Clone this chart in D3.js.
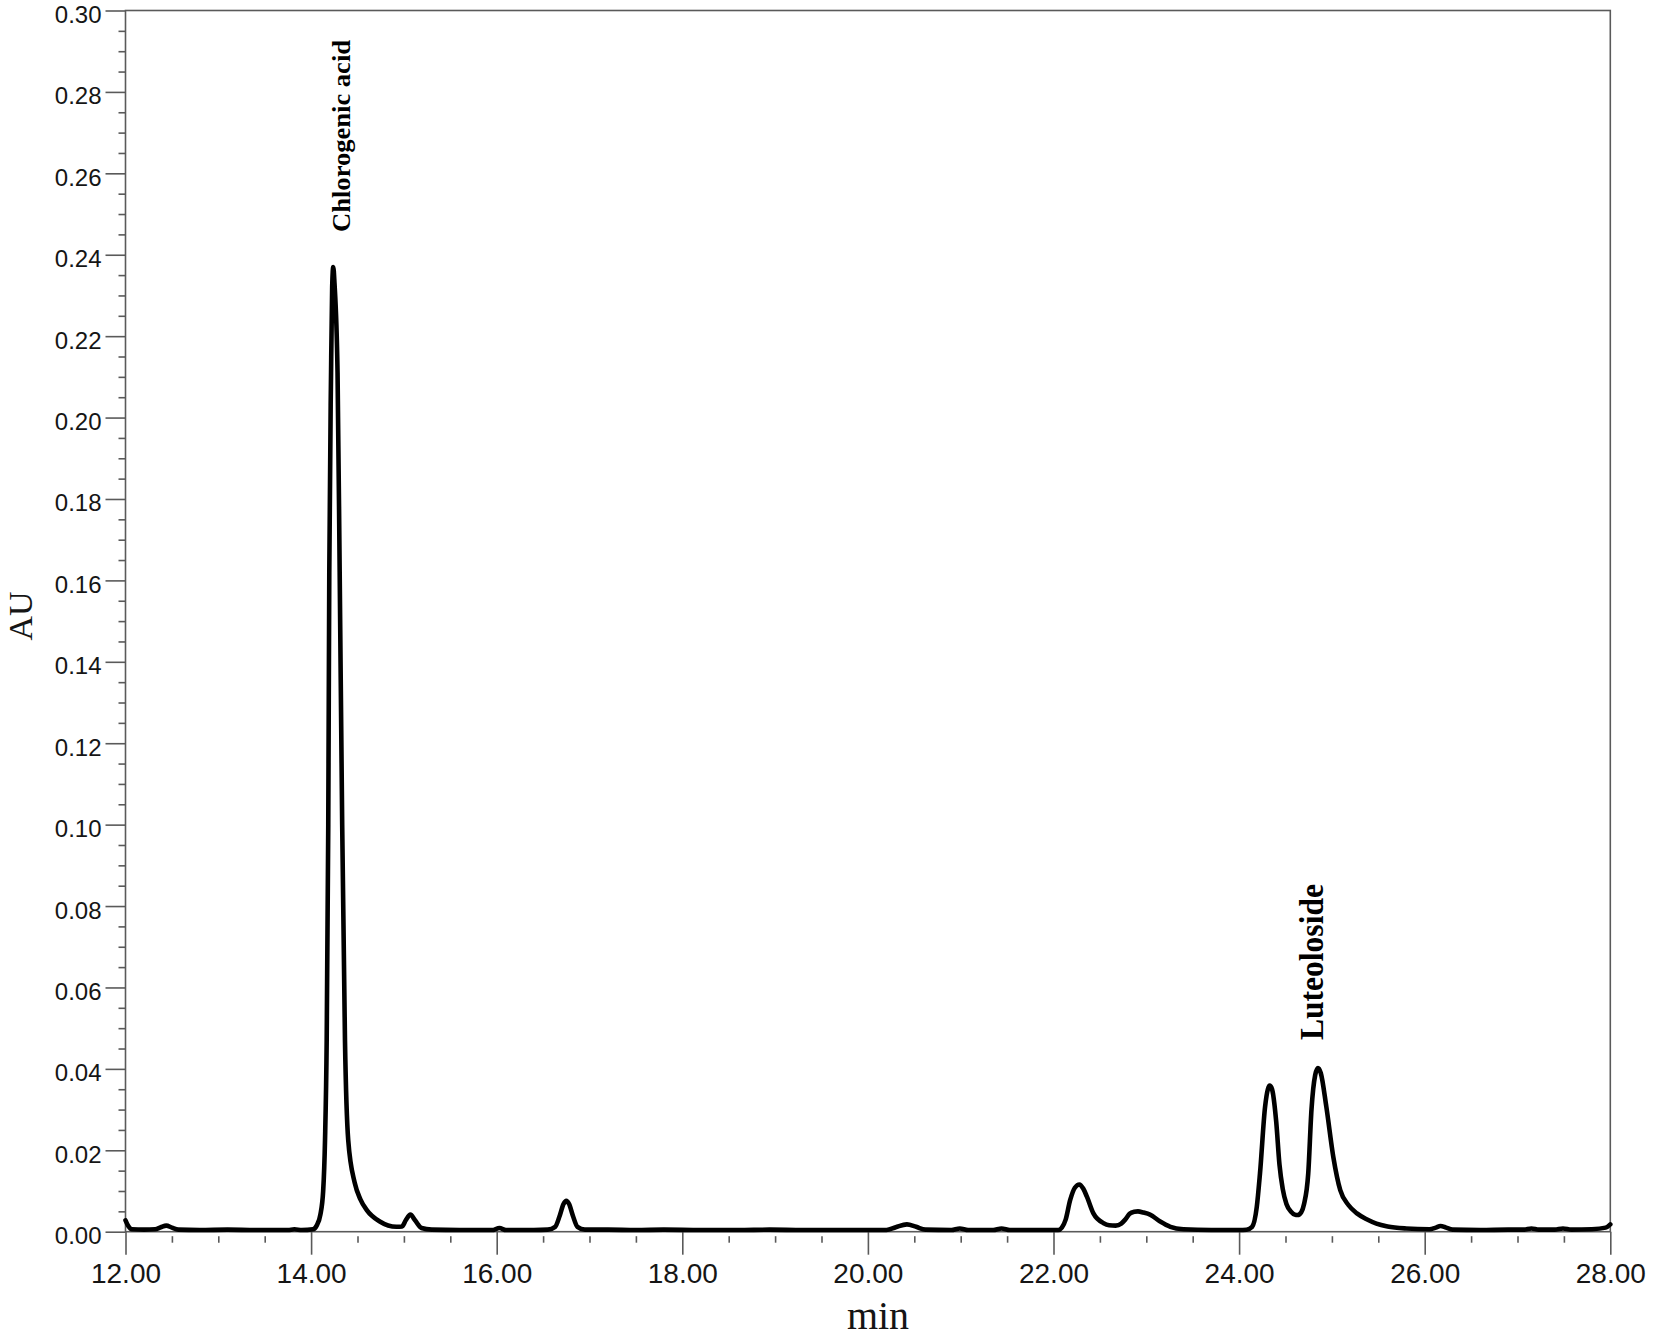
<!DOCTYPE html>
<html>
<head>
<meta charset="utf-8">
<script src="https://cdn.jsdelivr.net/npm/d3@7"></script>
<style>
  body { margin: 0; background: #fff; }
  svg { display: block; }
</style>
</head>
<body>
<svg id="canvas"></svg>
<script>
// chromatogram trace: retention time (min) and absorbance (AU)
const times = [
  12.00, 12.03, 12.07, 12.20, 12.32, 12.38, 12.44, 12.50, 12.57, 12.80, 13.10, 13.40, 13.75, 13.82, 13.90, 14.02,
  14.06, 14.10, 14.13, 14.15, 14.168, 14.185, 14.196, 14.215, 14.227, 14.239, 14.252, 14.285, 14.308, 14.335, 14.365,
  14.40, 14.47, 14.53, 14.60, 14.74, 14.92, 14.98, 15.02, 15.07, 15.12, 15.19, 15.30,
  15.60, 15.95, 16.03, 16.10, 16.40, 16.55, 16.63, 16.68, 16.72, 16.75, 16.78, 16.82, 16.87, 16.95,
  17.20, 17.50, 17.80, 18.20, 18.60, 18.94, 19.30, 19.80, 20.20, 20.30, 20.42, 20.52, 20.62,
  20.90, 20.99, 21.08, 21.35, 21.44, 21.53, 21.80, 22.05,
  22.09, 22.13, 22.18, 22.23, 22.28, 22.32, 22.36, 22.43, 22.54, 22.60, 22.67, 22.73, 22.77, 22.82, 22.87, 22.91,
  22.97, 23.04, 23.15, 23.26, 23.40, 23.70, 24.00, 24.08,
  24.14, 24.19, 24.225, 24.28, 24.31, 24.33, 24.355, 24.40, 24.435, 24.47, 24.51, 24.56, 24.60, 24.63, 24.67, 24.70, 24.745, 24.78,
  24.82, 24.85, 24.88, 24.94, 25.015, 25.09, 25.18, 25.27, 25.38, 25.48, 25.60, 25.80,
  26.05, 26.12, 26.17, 26.23, 26.30, 26.60, 26.90, 27.07, 27.15, 27.23, 27.40, 27.49, 27.58, 27.80, 27.95, 28.00
];
const absorbance = [
  0.0028, 0.0014, 0.0006, 0.0005, 0.0006, 0.0011, 0.0015, 0.0010, 0.0005, 0.0004, 0.0005, 0.0004, 0.0004, 0.0006, 0.0004, 0.0006,
  0.0015, 0.0042, 0.0100, 0.0225, 0.0470, 0.1000, 0.1620, 0.2110, 0.2320, 0.2370, 0.2330, 0.2110, 0.1620, 0.1000, 0.0470,
  0.0225, 0.0120, 0.0080, 0.0053, 0.0025, 0.0012, 0.0013, 0.0028, 0.0042, 0.0028, 0.0009, 0.0005,
  0.0004, 0.0004, 0.0009, 0.0004, 0.0004, 0.0005, 0.0012, 0.0040, 0.0068, 0.0076, 0.0068, 0.0040, 0.0012, 0.0005,
  0.0005, 0.0004, 0.0005, 0.0004, 0.0004, 0.0005, 0.0004, 0.0004, 0.0004, 0.0011, 0.0018, 0.0012, 0.0005,
  0.0004, 0.0008, 0.0004, 0.0004, 0.0008, 0.0004, 0.0004, 0.0004,
  0.0010, 0.0029, 0.0078, 0.0108, 0.0116, 0.0106, 0.0086, 0.0045, 0.0021, 0.0016, 0.0015, 0.0020, 0.0029, 0.0044, 0.0049, 0.0050,
  0.0047, 0.0042, 0.0025, 0.0012, 0.0006, 0.0004, 0.0004, 0.0005,
  0.0012, 0.0060, 0.0143, 0.0307, 0.0350, 0.0359, 0.0350, 0.0270, 0.0165, 0.0105, 0.0068, 0.0049, 0.0042, 0.0041, 0.0048, 0.0068, 0.0143, 0.0300,
  0.0385, 0.0402, 0.0390, 0.0307, 0.0184, 0.0102, 0.0065, 0.0045, 0.0030, 0.0020, 0.0013, 0.0008,
  0.0006, 0.0010, 0.0014, 0.0010, 0.0005, 0.0004, 0.0005, 0.0005, 0.0008, 0.0005, 0.0005, 0.0008, 0.0005, 0.0006, 0.0010, 0.0018
];

// axis ticks
const xMajorTicks = [12, 14, 16, 18, 20, 22, 24, 26, 28];
const xMinorTicks = d3.range(12.5, 28, 0.5).filter(t => t % 2 !== 0);
const yMajorTicks = [0, 0.02, 0.04, 0.06, 0.08, 0.10, 0.12, 0.14, 0.16, 0.18, 0.20, 0.22, 0.24, 0.26, 0.28, 0.30];
const yMinorTicks = d3.range(0.005, 0.3, 0.005).filter(v => Math.abs(v / 0.02 - Math.round(v / 0.02)) > 1e-6);

// peak labels
const peakNames = ['Chlorogenic acid', 'Luteoloside'];
const peakTimes = [14.239, 24.85];
const peakHeights = [0.237, 0.0402];

const width = 1653;
const height = 1339;
const margin = { top: 10.5, right: 42.7, bottom: 107.3, left: 125.5 };

const svg = d3.select('#canvas').attr('width', width).attr('height', height);

const x = d3.scaleLinear()
  .domain([12, 28])
  .range([margin.left, width - margin.right]);

const y = d3.scaleLinear()
  .domain([0, 0.30])
  .range([height - margin.bottom, margin.top]);

const axisColor = '#5a5a5a';
const labelColor = '#151515';

// minor ticks first
const xMinor = svg.append('g')
  .attr('transform', `translate(0,${y(0)})`)
  .call(d3.axisBottom(x).tickValues(xMinorTicks).tickSize(11).tickFormat(''));
xMinor.select('.domain').remove();
xMinor.selectAll('line').attr('y1', 4.5).attr('stroke', axisColor).attr('stroke-width', 1.6);

const yMinor = svg.append('g')
  .attr('transform', `translate(${x(12)},0)`)
  .call(d3.axisLeft(y).tickValues(yMinorTicks).tickSize(7).tickFormat(''));
yMinor.select('.domain').remove();
yMinor.selectAll('line').attr('stroke', axisColor).attr('stroke-width', 1.6);

// major ticks with labels
const xAxis = svg.append('g')
  .attr('transform', `translate(0,${y(0)})`)
  .call(d3.axisBottom(x).tickValues(xMajorTicks).tickSize(23).tickPadding(8.5).tickFormat(d3.format('.2f')));
xAxis.select('.domain').remove();
xAxis.selectAll('line').attr('stroke', axisColor).attr('stroke-width', 1.6);
xAxis.selectAll('text')
  .attr('fill', labelColor)
  .style('font-family', '"Liberation Sans", Arial, sans-serif')
  .style('font-size', '28px');

const yAxis = svg.append('g')
  .attr('transform', `translate(${x(12)},0)`)
  .call(d3.axisLeft(y).tickValues(yMajorTicks).tickSize(20).tickPadding(4).tickFormat(d3.format('.2f')));
yAxis.select('.domain').remove();
yAxis.selectAll('line').attr('stroke', axisColor).attr('stroke-width', 1.6);
yAxis.selectAll('text')
  .attr('fill', labelColor)
  .attr('dy', '0.5em')
  .style('font-family', '"Liberation Sans", Arial, sans-serif')
  .style('font-size', '24px');

// frame
svg.append('rect')
  .attr('x', x(12))
  .attr('y', y(0.30))
  .attr('width', x(28) - x(12))
  .attr('height', y(0) - y(0.30))
  .attr('fill', 'none')
  .attr('stroke', axisColor)
  .attr('stroke-width', 1.6);

// trace
const trace = times.map((t, i) => ({ t, v: absorbance[i] }));
const line = d3.line()
  .x(d => x(d.t))
  .y(d => y(d.v))
  .curve(d3.curveMonotoneX);

svg.append('path')
  .datum(trace)
  .attr('d', line)
  .attr('fill', 'none')
  .attr('stroke', '#000')
  .attr('stroke-width', 4.6)
  .attr('stroke-linejoin', 'round')
  .attr('stroke-linecap', 'round');

// peak annotations
const labelStyle = [
  { dx: 17, gap: 35, size: 26, len: 192 },
  { dx: 5, gap: 28, size: 34, len: 156 }
];
peakNames.forEach((name, i) => {
  const s = labelStyle[i];
  const px = x(peakTimes[i]) + s.dx;
  const py = y(peakHeights[i]) - s.gap;
  svg.append('text')
    .attr('transform', `translate(${px},${py}) rotate(-90)`)
    .attr('text-anchor', 'start')
    .attr('textLength', s.len)
    .attr('lengthAdjust', 'spacingAndGlyphs')
    .style('font-family', '"Liberation Serif", "Times New Roman", serif')
    .style('font-weight', 'bold')
    .style('font-size', s.size + 'px')
    .attr('fill', '#000')
    .text(name);
});

// axis titles
svg.append('text')
  .attr('transform', `translate(32,616) rotate(-90)`)
  .attr('text-anchor', 'middle')
  .style('font-family', '"Liberation Serif", "Times New Roman", serif')
  .style('font-size', '34px')
  .attr('fill', labelColor)
  .text('AU');

svg.append('text')
  .attr('x', 878)
  .attr('y', 1329)
  .attr('text-anchor', 'middle')
  .style('font-family', '"Liberation Serif", "Times New Roman", serif')
  .style('font-size', '40px')
  .attr('fill', labelColor)
  .text('min');
</script>
</body>
</html>
